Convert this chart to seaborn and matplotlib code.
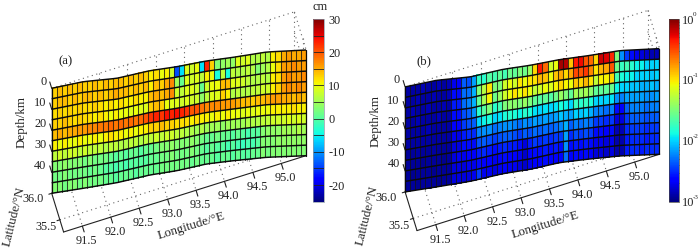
import numpy as np
import pandas as pd
import matplotlib
matplotlib.use("Agg")
import matplotlib.pyplot as plt
from matplotlib.transforms import Transform
import seaborn as sns

# ---- data: slip values per fault-plane cell ----
depth_rows_km = ["0-5", "5-10", "10-15", "15-20", "20-25", "25-30", "30-35", "35-40", "40-45", "45-50"]

disp_r0 = [13,14,13,14,13,14,13,13,14,13,14,13,14,14,13,14,13,14,13, 11,12,10,11,8, -14,-6, 9,8,10, -6,23,13, 3,4,5,4, 9,8,9,6, 6,7,6, 11,12, 15,16,15,15,16]
disp_r1 = [13,14,14,13,14,13,14,14,13,14,13,14,15,14,14,13,14,13,14, 11,14,13,15,17, 5,1,9,8,9, 7,11,10, -4,7,-4, 7,6,6,7,6, 3,5,6, 10,12, 16,16,17,16,16]
disp_r2 = [12,13,12,13,12,13,12,12,13,12,11,12,11,12,11,11,12,11,11, 14,15,14,15,17, 8,7,9,9,8, 1,8,10,10, 14,14, 9,9,8, 7,6,6,7,6, 11,12, 16,17,16,16,17]
disp_r3 = [13,13,14,13,12,13,12,12,11,12,11,10,11,10,10,9,10,9,9, 13,14,13,10,9, 9,8,9,8,8, 4,7,9,9, 13,11, 6,7,6,6,7, 7,8,8, 11,13, 16,17,16,17,16]
disp_r4 = [14,15,14,15,15, 16,16,17,17, 18,18,19,18,19,18,19,18,19,20, 22,23,22,24,23,24,23,22, 20,20, 18,17,17,17,16, 16,16,15, 14,14,13,14,14, 15,16,16, 15,15,14,15,14]
disp_r5 = [11,10,11,10,10,11,10,10,11,10,11,12,11,11,10,11,10,11,11, 13,13,14,13,13,12, 12,12,11,12, 11,11,10,11, 10,11,10,10,9,10,9,10,10,10,11,11, 11,11,12,11,11]
disp_r6 = [7,8,7,8,8,7,8,7,7,7,6,7,7,6,6,7, 7,6,7,7,8,7,8,8,7,7, 6,6,5,6,5,5,5,4,5,5, 5,5,6,6,6,7,7,8,8, 8,9,8,9,8]
disp_r7 = [3,3,4,3,3,3,2,3,2,2,2, 1,0,1,0,1,1,0,1,1,2, 3,3,4,3,3,3,4,3, 2,1,1,2,1,1,0,1, 0,-1,0,0, 3,4,4,4, 5,5,5,6,5]
disp_r8 = [2,2,3,2,2,2,2,1,2,1, 0,0,-1,0,-1,0,0,0,0,1,1, 2,2,3,2,2,2,3,2, 1,0,1,0,0,-1,0,-1,-2,-1,-1,0, 3,3,3,4,4,4,4,4,4]
disp_r9 = [3,3,2,3,3,2,3,2,2,2, 1,1,0,1,1,1,0,1,1,1,1, 2,2,2,2,2,2,1,2, 1,1,1,0,1,1,0,1,0,0,1,1, 3,2,3,3,3,3,3,3,3]

# panel (b): log10 of the value
log_r0 = [-2.9,-2.9,-2.9,-2.85,-2.9,-2.9,-2.85,-2.9,-2.85, -2.7,-2.65, -2.35,-2.4,-2.15, -1.75,-1.8,-1.65,-1.7,-1.6,-1.7,-1.55,-1.6,-1.5,-1.55,-1.4,-0.95,-0.35,-0.6,-1.2,-1.1,-0.1,-0.15,-0.9,-0.35,-0.3,-0.55,-0.6,-0.95,-0.2,-0.25,-0.4,-1.5,-2.2,-2.45,-2.6,-2.7,-2.75,-2.8,-2.85,-2.85]
log_r1 = [-2.9,-2.9,-2.85,-2.9,-2.9,-2.85,-2.9,-2.9,-2.85, -2.6,-2.6, -2.3,-2.3,-2.1, -1.5,-1.3,-1.0,-1.5,-1.5,-1.2,-1.1,-1.2,-1.0,-1.1,-1.0,-1.0,-0.85,-0.9,-1.1,-0.9,-0.8,-0.95,-0.8,-0.5,-0.55,-0.45,-0.7,-1.0,-0.85,-0.8,-0.55,-1.55,-1.75,-1.7,-1.8,-1.9,-1.9,-2.0,-2.0,-2.0]
log_r2 = [-2.9,-2.85,-2.9,-2.9,-2.85,-2.9,-2.9,-2.85,-2.9, -2.55,-2.55, -2.3,-2.25,-2.1, -1.6,-1.35,-1.05,-1.55,-1.4,-1.2,-1.1,-1.0,-1.1,-1.0,-1.1,-1.25,-1.2,-1.1,-1.15,-1.05,-0.95,-1.05,-1.1,-0.9,-0.95,-0.85,-1.0,-1.25,-1.05,-1.05,-0.95,-1.7,-1.85,-1.9,-1.9,-2.0,-2.0,-2.0,-2.05,-2.0]
log_r3 = [-2.9,-2.9,-2.85,-2.9,-2.9,-2.9,-2.85,-2.9,-2.9, -2.6,-2.6, -2.4,-2.35,-2.2, -1.8,-1.65,-1.5,-1.8,-1.7,-1.5,-1.45,-1.45,-1.5,-1.4,-1.5,-1.6,-1.65,-1.6,-1.65,-1.55,-1.4,-1.5,-1.6,-1.35,-1.4,-1.35,-1.45,-1.6,-1.6,-1.6,-1.55,-1.9,-2.0,-2.0,-2.05,-2.05,-2.1,-2.1,-2.05,-2.1]
log_r4 = [-2.9,-2.9,-2.9,-2.9,-2.85,-2.9,-2.9,-2.9,-2.9, -2.65,-2.65, -2.45,-2.4,-2.35, -2.0,-1.9,-1.85,-2.0,-1.95,-1.85,-1.8,-1.85,-1.9,-1.8,-1.85,-1.95,-2.0,-1.95,-2.0,-1.95,-1.85,-1.9,-2.0,-1.75,-1.8,-1.75,-1.85,-2.0,-2.0,-2.0,-1.95,-2.2,-2.25,-2.15,-2.15,-2.15,-2.15,-2.2,-2.2,-2.15]
log_r5 = [-2.9,-2.9,-2.9,-2.9,-2.9,-2.9,-2.9,-2.9,-2.9, -2.7,-2.72, -2.55,-2.5,-2.5, -2.25,-2.2,-2.2,-2.3,-2.25,-2.2,-2.2,-2.25,-2.3,-2.2,-2.25,-2.15,-2.2,-2.15,-2.2,-2.15,-2.05,-2.1,-2.15,-2.0,-2.05,-2.0,-2.1,-2.25,-2.25,-2.3,-2.25,-2.6,-2.65,-2.35,-2.25,-2.25,-2.25,-2.3,-2.25,-2.25]
log_r6 = [-2.92,-2.92,-2.9,-2.92,-2.92,-2.9,-2.92,-2.92,-2.92, -2.75,-2.75, -2.6,-2.6,-2.6, -2.4,-2.35,-2.4,-2.45,-2.4,-2.35,-2.35,-2.4,-2.45,-2.35,-2.4,-2.3,-2.35,-2.3,-2.35,-2.3,-2.25,-2.1,-2.35,-2.25,-2.3,-2.25,-2.3,-2.45,-2.45,-2.5,-2.45,-2.75,-2.75,-2.45,-2.35,-2.35,-2.35,-2.4,-2.35,-2.35]
log_r7 = [-2.92,-2.92,-2.92,-2.95,-2.92,-2.92,-2.92,-2.95,-2.92, -2.75,-2.7, -2.7,-2.65,-2.65, -2.55,-2.5,-2.55,-2.6,-2.55,-2.5,-2.55,-2.55,-2.6,-2.75,-2.55,-2.45,-2.5,-2.45,-2.5,-2.45,-2.45,-2.15,-2.5,-2.4,-2.45,-2.4,-2.45,-2.6,-2.6,-2.65,-2.6,-2.85,-2.85,-2.5,-2.45,-2.45,-2.45,-2.5,-2.45,-2.45]
log_r8 = [-2.92,-2.95,-2.92,-2.92,-2.92,-2.95,-2.92,-2.92,-2.92, -2.75,-2.75, -2.75,-2.7,-2.7, -2.6,-2.65,-2.65,-2.7,-2.65,-2.6,-2.65,-2.65,-2.7,-2.8,-2.65,-2.6,-2.6,-2.55,-2.6,-2.55,-2.6,-2.2,-2.6,-2.55,-2.6,-2.55,-2.6,-2.7,-2.7,-2.75,-2.7,-2.88,-2.88,-2.55,-2.5,-2.5,-2.5,-2.55,-2.5,-2.5]
log_r9 = [-2.92,-2.92,-2.95,-2.92,-2.92,-2.92,-2.95,-2.92,-2.92, -2.75,-2.75, -2.75,-2.75,-2.7, -2.45,-2.7,-2.7,-2.75,-2.7,-2.65,-2.7,-2.7,-2.75,-2.8,-2.7,-2.65,-2.65,-2.6,-2.65,-2.65,-2.65,-2.3,-2.65,-2.6,-2.65,-2.6,-2.65,-2.75,-2.75,-2.8,-2.75,-2.88,-2.88,-2.55,-2.5,-2.5,-2.55,-2.5,-2.5,-2.5]

disp_table = pd.DataFrame([disp_r0, disp_r1, disp_r2, disp_r3, disp_r4, disp_r5, disp_r6, disp_r7, disp_r8, disp_r9], index=depth_rows_km)
log_table = pd.DataFrame([log_r0, log_r1, log_r2, log_r3, log_r4, log_r5, log_r6, log_r7, log_r8, log_r9], index=depth_rows_km)

lon_ticks = [91.5, 92.0, 92.5, 93.0, 93.5, 94.0, 94.5, 95.0]
lat_ticks = [36.0, 35.5]
depth_ticks = [0, 10, 20, 30, 40]
cbar_a_ticks = [-20, -10, 0, 10, 20, 30]
cbar_a_levels = [-20, -15, -10, -5, 0, 5, 10, 15, 20, 25]
cbar_b_ticks = [-3, -2, -1, 0]
cbar_b_base = ["10", "10", "10", "10"]
cbar_b_power = ["-3", "-2", "-1", "0"]

# ---- projection of the 3-D box onto the page (pixels of panel a) ----
LON0, LON1, LAT0, LAT1, DEPTH1 = 91.17, 95.44, 36.0, 35.27, 50.0
ORIGIN = (51.7, 88.3)
E_LON = (56.85, -17.9)
E_LAT = (16.3, 53.0)
E_DEPTH = 2.1
PANEL_B_OFFSET = (353.4, -1.4)

# outline of the sheet (edge positions sampled by column)
sheet_cols = [0, 6.2, 12.8, 19.3, 24.6, 30.4, 35.7, 42.3, 50]
sheet_top = [88.3, 81.7, 78.3, 70.7, 66.7, 61.0, 57.3, 52.0, 50.0]
sheet_bot = [193.3, 188.3, 182.7, 175.0, 170.7, 164.0, 160.7, 157.3, 155.7]
SHEET_X = (51.7, 306.0)

sns.set_theme(style="white")
plt.rcParams["font.family"] = ["Liberation Serif", "DejaVu Serif"]
plt.rcParams["axes.unicode_minus"] = False
INK = "#222222"
FS = 8.8


class SheetTransform(Transform):
    input_dims = 2
    output_dims = 2
    is_affine = False

    def __init__(self, dx=0.0, dy=0.0):
        super().__init__()
        self.dx, self.dy = dx, dy

    def transform_non_affine(self, xy):
        xy = np.asarray(xy, float)
        c, r = xy[:, 0], xy[:, 1]
        x = SHEET_X[0] + (SHEET_X[1] - SHEET_X[0]) * c / 50.0 + self.dx
        top = np.interp(c, sheet_cols, sheet_top)
        bot = np.interp(c, sheet_cols, sheet_bot)
        y = top + (bot - top) * r / 10.0 + self.dy
        return np.column_stack([x, y])


def project(lon, lat, depth, off=(0, 0)):
    dl, da = lon - LON0, LAT0 - lat
    x = ORIGIN[0] + dl * E_LON[0] + da * E_LAT[0] + off[0]
    y = ORIGIN[1] + dl * E_LON[1] + da * E_LAT[1] + depth * E_DEPTH + off[1]
    return x, y


fig = plt.figure(figsize=(7, 2.5), dpi=100)
canvas = fig.add_axes([0, 0, 1, 1])


def seg(a, b, off, **kw):
    xa, ya = project(*a, off)
    xb, yb = project(*b, off)
    canvas.plot([xa, xb], [ya, yb], **kw)


def draw_panel(table, off, vmin, vmax, cax, cbar_ticks):
    sns.heatmap(table, ax=canvas, cmap="jet", vmin=vmin, vmax=vmax, cbar=True, cbar_ax=cax,
                cbar_kws={"ticks": cbar_ticks}, xticklabels=False, yticklabels=False,
                linewidths=0)
    mesh = canvas.collections[-1]
    sheet = SheetTransform(*off) + canvas.transData
    mesh.set_transform(sheet)
    mesh.set_zorder(2)
    mesh.set_antialiased(False)
    # cell borders
    cols = np.arange(0, 51)
    for c in range(1, 50):
        canvas.plot([c, c], [0, 10], transform=sheet, color="#151515", lw=0.75, alpha=0.8, zorder=3)
    for r in range(11):
        canvas.plot(cols, np.full(51, r), transform=sheet, color="#0a0a0a", lw=1.05, zorder=3.1, solid_capstyle="butt")
    for c in (0, 50):
        canvas.plot([c, c], [0, 10], transform=sheet, color="#0a0a0a", lw=0.9, zorder=3.1)

    dot = dict(color="#666666", lw=0.8, ls=(0, (1, 3.2)), zorder=1)
    solid = dict(color=INK, lw=0.8, zorder=1.5)
    # walls and floor grid
    seg((LON0, LAT0, 0), (LON1, LAT0, 0), off, **dot)
    seg((LON1, LAT0, 0), (LON1, LAT1, 0), off, **dot)
    seg((LON1, LAT0, 0), (LON1, LAT0, DEPTH1), off, **dot)
    seg((LON0, LAT0, DEPTH1), (LON1, LAT0, DEPTH1), off, **dot)
    for lon in lon_ticks:
        seg((lon, LAT0, 0), (lon, LAT0, DEPTH1), off, **dot)
        seg((lon, LAT0, DEPTH1), (lon, LAT1, DEPTH1), off, **dot)
    seg((LON0, 35.5, DEPTH1), (LON1, 35.5, DEPTH1), off, **dot)
    seg((LON1, 35.5, 0), (LON1, 35.5, DEPTH1), off, **dot)
    for d in depth_ticks[1:]:
        seg((LON1, LAT0, d), (LON1, LAT1, d), off, **dot)
    # solid axes
    seg((LON0, LAT0, 0), (LON0, LAT0, DEPTH1), off, color=INK, lw=1.0, zorder=1.5)
    seg((LON0, LAT0, DEPTH1), (LON0, LAT1, DEPTH1), off, **solid)
    seg((LON0, LAT1, DEPTH1), (LON1, LAT1, DEPTH1), off, **solid)
    # ticks and labels
    for lon in lon_ticks:
        seg((lon, LAT1, DEPTH1), (lon, LAT1 - 0.11, DEPTH1), off, **solid)
        x, y = project(lon, LAT1 - 0.265, DEPTH1, off)
        canvas.text(x, y + 1, f"{lon:.1f}", ha="center", va="center", fontsize=FS, color=INK)
    for d in depth_ticks:
        seg((LON0, LAT0, d), (LON0, LAT0 + 0.12, d), off, **solid)
        x, y = project(LON0, LAT0, d, off)
        canvas.text(x - 5.5, y - 6.5, str(d), ha="right", va="center", fontsize=FS, color=INK)
    for lat in lat_ticks:
        seg((LON0, lat, DEPTH1), (LON0 - 0.05, lat, DEPTH1), off, **solid)
    x36, y36 = project(LON0, 36.0, DEPTH1, off)
    canvas.text(x36 - 8.5, y36 + 6, "36.0", ha="right", va="center", fontsize=FS, color=INK)
    x35, y35 = project(LON0, 35.5, DEPTH1, off)
    canvas.text(x35 - 3.5, y35 + 7.5, "35.5", ha="right", va="center", fontsize=FS, color=INK)
    canvas.text(22 + off[0], 122 + off[1], "Depth/km", rotation=90, ha="center", va="center", fontsize=FS + 0.6, color=INK)
    canvas.text(14 + off[0], 217 + off[1], "Latitude/°N", rotation=76, ha="center", va="center", fontsize=FS + 0.6, color=INK)
    canvas.text(191.5 + off[0], 226 + off[1], "Longitude/°E", rotation=17, ha="center", va="center", fontsize=FS + 0.6, color=INK)
    return mesh


cax_a = fig.add_axes([313.4 / 700, 1 - 201.6 / 250, 10.6 / 700, 182.6 / 250])
cax_b = fig.add_axes([669.2 / 700, 1 - 201.6 / 250, 10.2 / 700, 182.6 / 250])

m_a = draw_panel(disp_table, (0, 0), -25, 30, cax_a, cbar_a_ticks)
m_b = draw_panel(log_table, PANEL_B_OFFSET, -3, 0, cax_b, cbar_b_ticks)

canvas.set_xlim(0, 700)
canvas.set_ylim(250, 0)
canvas.axis("off")
canvas.text(65.5, 61, "(a)", ha="center", va="center", fontsize=FS + 0.4, color=INK)
canvas.text(424, 61, "(b)", ha="center", va="center", fontsize=FS + 0.4, color=INK)
canvas.text(320.5, 7.5, "cm", ha="center", va="center", fontsize=FS, color=INK)

# colour bars
cb_a = m_a.colorbar
cb_a.ax.hlines(cbar_a_levels, 0, 1, colors="#222222", lw=0.6, transform=cb_a.ax.get_yaxis_transform())
cb_a.ax.tick_params(axis="y", length=0, pad=3, labelsize=FS, labelcolor=INK)
cb_a.outline.set_visible(True)
cb_a.outline.set_edgecolor("#8a97a5")
cb_a.outline.set_linewidth(0.5)

cb_b = m_b.colorbar
cb_b.set_ticklabels(cbar_b_base)
minor = [k + np.log10(m) for k in (-3, -2, -1) for m in range(2, 10)]
cb_b.ax.yaxis.set_ticks(minor, minor=True)
cb_b.ax.tick_params(axis="y", which="minor", direction="in", length=1.6, width=0.5, left=True, right=True, color="#111111")
cb_b.ax.tick_params(axis="y", which="major", length=0, pad=1.5, labelsize=FS, labelcolor=INK)
cb_b.outline.set_visible(True)
cb_b.outline.set_edgecolor("#444444")
cb_b.outline.set_linewidth(0.5)
for tick, power in zip(cbar_b_ticks, cbar_b_power):
    cb_b.ax.annotate(power, xy=(1, tick), xycoords=cb_b.ax.get_yaxis_transform(),
                     xytext=(9.9, 3), textcoords="offset points", ha="left", va="center",
                     fontsize=5, color=INK, annotation_clip=False)

fig.savefig("out.png", dpi=100)
